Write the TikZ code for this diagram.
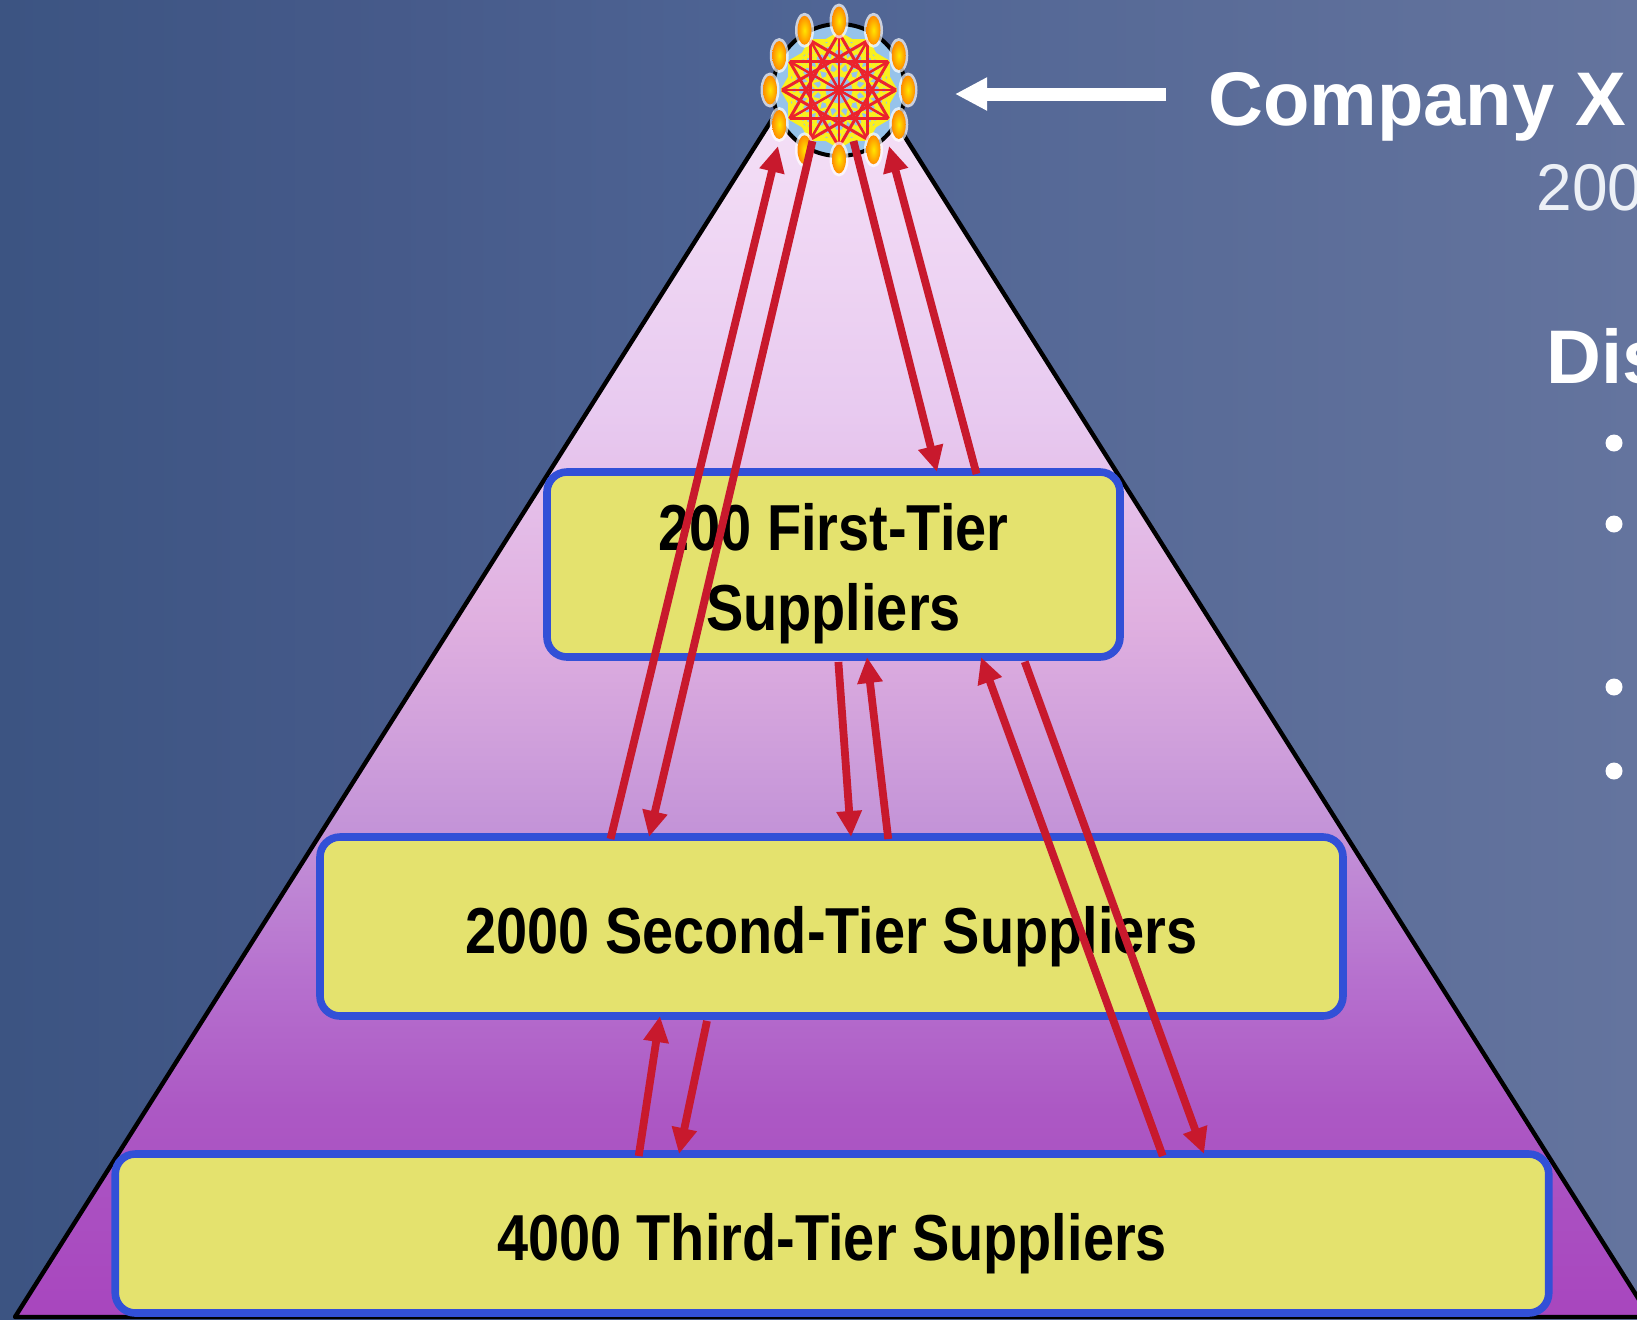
\documentclass[tikz,border=0pt]{standalone}
\usepackage{fontspec}
\setmainfont{Liberation Sans}
\newfontfamily\tierfont[FakeStretch=0.86]{Liberation Sans}
\newfontfamily\yearfont[FakeStretch=0.97]{Liberation Sans}
\usetikzlibrary{arrows.meta,shapes.geometric,calc}
\definecolor{bgA}{RGB}{60,84,130}
\definecolor{bgB}{RGB}{70,90,138}
\definecolor{bgC}{RGB}{78,100,148}
\definecolor{bgD}{RGB}{90,108,152}
\definecolor{bgE}{RGB}{100,116,158}
\definecolor{pyA}{RGB}{168,70,190}
\definecolor{pyB}{RGB}{172,88,196}
\definecolor{pyC}{RGB}{182,112,206}
\definecolor{pyD}{RGB}{196,148,216}
\definecolor{pyE}{RGB}{224,176,224}
\definecolor{pyF}{RGB}{232,202,240}
\definecolor{pyG}{RGB}{248,230,248}
\definecolor{boxfill}{RGB}{228,226,110}
\definecolor{boxline}{RGB}{50,80,215}
\definecolor{linkred}{RGB}{200,25,45}
\definecolor{meshred}{RGB}{235,35,45}
\definecolor{meshyellow}{RGB}{250,240,30}
\definecolor{hubblue}{RGB}{150,195,235}
\definecolor{dimwhite}{RGB}{236,240,246}
\pgfdeclarehorizontalshading{bgshade}{100bp}{color(0bp)=(bgA); color(25bp)=(bgA); color(37bp)=(bgB); color(48bp)=(bgC); color(62bp)=(bgD); color(75bp)=(bgE); color(100bp)=(bgE)}
\pgfdeclareverticalshading{pyrshade}{100bp}{color(0bp)=(pyA); color(25bp)=(pyA); color(33bp)=(pyB); color(38bp)=(pyC); color(44bp)=(pyD); color(52bp)=(pyE); color(60bp)=(pyF); color(75bp)=(pyG); color(100bp)=(pyG)}
\tikzset{
  tierbox/.style={draw=boxline,fill=boxfill,line width=3.8pt,rounded corners=10pt,inner sep=0pt,outer sep=0pt,text=black,font=\tierfont\bfseries\fontsize{32.5}{40}\selectfont,align=center},
  link/.style={draw=linkred,line width=3.9pt,-{Triangle[length=13pt,width=12pt]},shorten <=-1pt,shorten >=0pt},
  fromsouth/.style={shorten <=2.5pt},
  halo/.style={ellipse,fill=white,fill opacity=.7,minimum width=9.5pt,minimum height=17.5pt,inner sep=0pt},
  periph/.style={ellipse,inner color=yellow!80!orange,outer color=orange!90!yellow,minimum width=7pt,minimum height=14.5pt,inner sep=0pt},
  bulletdot/.style={circle,fill=white,minimum size=8.5pt,inner sep=0pt},
  headtext/.style={inner sep=0pt,anchor=base west,text=white,font=\bfseries\fontsize{38}{44}\selectfont}
}
\begin{document}
\begin{tikzpicture}[x=0.5pt,y=-0.5pt]
\useasboundingbox (0,0) rectangle (1637,1319);
\clip (0,0) rectangle (1637,1319);
\shade[shading=bgshade] (0,0) rectangle (1637,1319);
% pyramid
\path[shading=pyrshade,draw=black,line width=2.2pt,line join=round] (833,23) -- (1650,1317) -- (15,1317) -- cycle;
% tier boxes
\node[tierbox,minimum width=286.5pt,minimum height=92.5pt,text height=0pt,text depth=0pt] (tier1) at (833.5,564.5)
  {\raisebox{-11pt}{\begin{tabular}{@{}c@{}}200 First-Tier\\Suppliers\end{tabular}}};
\node[tierbox,minimum width=511.5pt,minimum height=89.5pt,text height=27pt,text depth=0pt] (tier2) at (831.5,926.5) {2000 Second-Tier Suppliers};
\node[tierbox,minimum width=716.75pt,minimum height=79.5pt,text height=27pt,text depth=0pt] (tier3) at (832,1233.5) {4000 Third-Tier Suppliers};
% hub
\node[circle,draw=black,fill=hubblue,line width=2pt,minimum size=66pt,inner sep=0pt] (hub) at (839,90) {};
\foreach \i in {1,...,12}{
  \coordinate (m\i) at ($(hub.center)+({\i*30}:57)$);
  \coordinate (q\i) at ($(hub.center)+({\i*30}:69)$);
}
\foreach \s in {2,3,5}{
  \foreach \i in {1,...,12}{
    \pgfmathtruncatemacro\j{mod(\i+\s-1,12)+1}
    \draw[meshyellow,line width=1.4pt] (m\i) -- (m\j);
  }
}
\foreach \i in {1,...,12}{
  \pgfmathtruncatemacro\j{mod(\i+3,12)+1}
  \draw[meshred,line width=1.5pt] (m\i) -- (m\j);
  \pgfmathtruncatemacro\k{mod(\i+5,12)+1}
  \draw[meshred,line width=1.1pt] (m\i) -- (m\k);
}
% peripheral nodes
\foreach \i in {1,...,12}{
  \node[halo] at (q\i) {};
  \node[periph] (p\i) at (q\i) {};
}
% links between levels
\coordinate (h1) at ($(hub.center)+(-61,56)$);
\coordinate (h2) at ($(hub.center)+(-27,53)$);
\coordinate (h3) at ($(hub.center)+(15,53)$);
\coordinate (h4) at ($(hub.center)+(50,56)$);
\draw[link] (611,0 |- tier2.north) -- (h1);
\draw[link] (h2) -- (649,0 |- tier2.north);
\draw[link] (h3) -- (937,0 |- tier1.north);
\draw[link] (976,0 |- tier1.north) -- (h4);
\draw[link,fromsouth] (838,0 |- tier1.south) -- (851,0 |- tier2.north);
\draw[link] (888,0 |- tier2.north) -- (867,0 |- tier1.south);
\draw[link] (1162,0 |- tier3.north) -- (981,0 |- tier1.south);
\draw[link,fromsouth] (1023,0 |- tier1.south) -- (1204,0 |- tier3.north);
\draw[link] (639,0 |- tier3.north) -- (660,0 |- tier2.south);
\draw[link,fromsouth] (708,0 |- tier2.south) -- (679,0 |- tier3.north);
% right-hand text
\node[headtext] (companyx) at (1208,125) {Company X};
\node[inner sep=0pt,anchor=base west,text=dimwhite,font=\yearfont\fontsize{33}{40}\selectfont] (year) at (1536,210) {2000};
\node[headtext] (dis) at (1546,383) {Dis};
\node[bulletdot] (b1) at (1614,443) {};
\node[bulletdot] (b2) at (1614,524) {};
\node[bulletdot] (b3) at (1614,687) {};
\node[bulletdot] (b4) at (1614,771) {};
% pointer
\coordinate (ptrtail) at (1166,94);
\coordinate (ptrtip) at (955,94);
\draw[white,line width=6.5pt,-{Triangle[length=16pt,width=15.5pt]}] (ptrtail) -- (ptrtip);
\end{tikzpicture}
\end{document}
